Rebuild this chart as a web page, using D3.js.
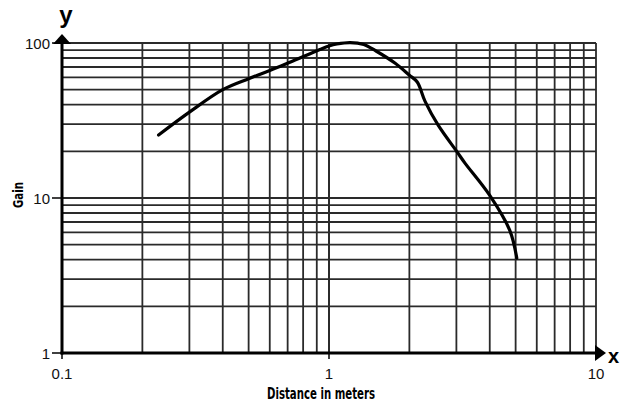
<!DOCTYPE html>
<html><head><meta charset="utf-8">
<script src="https://cdn.jsdelivr.net/npm/d3@7"></script>
<style>body{margin:0;background:#fff}svg{display:block}</style>
</head><body>
<svg id="c" width="621" height="403"></svg>
<script>
const distance = [0.23, 0.3, 0.4, 0.5, 0.6, 0.71, 0.925, 1.0, 1.07, 1.2, 1.35, 1.5, 1.77, 2.0, 2.14, 2.29, 2.56, 3.02, 3.23, 4.0, 4.75, 5.05];
const gain     = [25.5, 35.8, 50.0, 58.8, 66.5, 74.8, 90.8, 95.6, 98.5, 100.7, 97.8, 88.8, 74, 62, 56, 42, 29.6, 19.8, 16.8, 10.4, 6.2, 4.1];
const xTickLabels = ["0.1", "1", "10"];
const yTickLabels = ["1", "10", "100"];
const xTicks = [0.1, 1, 10];
const yTicks = [1, 10, 100];

const svg = d3.select("#c");
const L = 62, R = 596, T = 43, B = 353;
const x = d3.scaleLog().domain([0.1, 10]).range([L, R]);
const y = d3.scaleLog().domain([1, 100]).range([B, T]);

const minorX = [], minorY = [];
[0.1, 1].forEach(d => { for (let k = 1; k <= 10; k++) minorX.push(d * k); });
[1, 10].forEach(d => { for (let k = 1; k <= 10; k++) minorY.push(d * k); });

const g = svg.append("g");
g.selectAll(".vx").data(minorX).enter().append("line")
  .attr("x1", d => x(d)).attr("x2", d => x(d)).attr("y1", T).attr("y2", B)
  .attr("stroke", "#2a2a2a").attr("stroke-width", 1.8);
g.selectAll(".hy").data(minorY).enter().append("line")
  .attr("y1", d => y(d)).attr("y2", d => y(d)).attr("x1", L).attr("x2", R)
  .attr("stroke", "#2a2a2a").attr("stroke-width", 1.8);

// axes
svg.append("line").attr("x1", L).attr("x2", L).attr("y1", T).attr("y2", B + 1.5)
  .attr("stroke", "#000").attr("stroke-width", 3);
svg.append("line").attr("x1", L - 1.5).attr("x2", R).attr("y1", B).attr("y2", B)
  .attr("stroke", "#000").attr("stroke-width", 3);
// arrows
svg.append("path").attr("d", `M${L},${T-9} L${L+9},${T+1} L${L-9},${T+1} Z`).attr("fill", "#000");
svg.append("path").attr("d", `M${R+10},${B} L${R-1},${B-8} L${R-1},${B+8} Z`).attr("fill", "#000");

// ticks
svg.selectAll(".yt").data(yTicks).enter().append("line")
  .attr("x1", L - 10).attr("x2", L).attr("y1", d => y(d)).attr("y2", d => y(d))
  .attr("stroke", "#000").attr("stroke-width", 1.5);
svg.selectAll(".xt").data(xTicks).enter().append("line")
  .attr("x1", d => x(d)).attr("x2", d => x(d)).attr("y1", B).attr("y2", B + 6)
  .attr("stroke", "#000").attr("stroke-width", 1.5);

svg.selectAll(".ytl").data(yTicks).enter().append("text")
  .attr("x", L - 12).attr("y", d => y(d) + 5.5).attr("text-anchor", "end")
  .attr("font-family", "'Liberation Sans', Arial, sans-serif").attr("font-size", 15)
  .attr("fill", "#111")
  .text((d, i) => yTickLabels[i]);
svg.selectAll(".xtl").data(xTicks).enter().append("text")
  .attr("x", d => x(d)).attr("y", B + 26).attr("text-anchor", "middle")
  .attr("font-family", "'Liberation Sans', Arial, sans-serif").attr("font-size", 15)
  .attr("fill", "#111")
  .text((d, i) => xTickLabels[i]);

// axis letters
svg.append("text").attr("x", 66).attr("y", 23).attr("text-anchor", "middle")
  .attr("font-family", "'Liberation Sans', Arial, sans-serif").attr("font-weight", "bold").attr("font-size", 24).text("y");
svg.append("text").attr("x", 608).attr("y", 363)
  .attr("font-family", "'Liberation Sans', Arial, sans-serif").attr("font-weight", "bold").attr("font-size", 20).text("x");

// titles
svg.append("text").attr("transform", "translate(23,195) rotate(-90)").attr("text-anchor", "middle")
  .attr("font-family", "'Liberation Sans Narrow', 'DejaVu Sans Condensed', sans-serif").attr("font-weight", "bold")
  .attr("font-size", 14).attr("textLength", 26).attr("lengthAdjust", "spacingAndGlyphs").text("Gain");
svg.append("text").attr("x", 321).attr("y", 399).attr("text-anchor", "middle")
  .attr("font-family", "'Liberation Sans Narrow', 'DejaVu Sans Condensed', sans-serif").attr("font-weight", "bold")
  .attr("font-size", 16).attr("textLength", 108).attr("lengthAdjust", "spacingAndGlyphs").text("Distance in meters");

// curve
const pts = distance.map((d, i) => [d, gain[i]]);
svg.append("path").datum(pts)
  .attr("d", d3.line().x(d => x(d[0])).y(d => y(d[1])).curve(d3.curveCatmullRom.alpha(0.5)))
  .attr("fill", "none").attr("stroke", "#000").attr("stroke-width", 3.2)
  .attr("stroke-linecap", "round").attr("stroke-linejoin", "round");
</script>
</body></html>
